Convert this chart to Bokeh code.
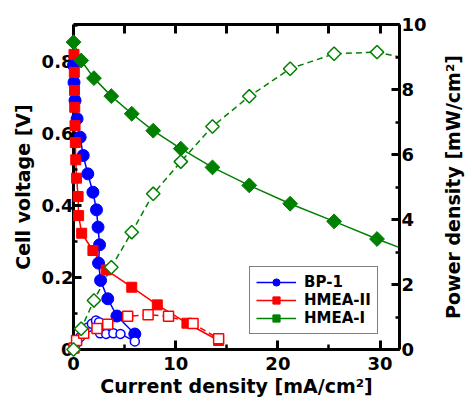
import numpy as np
from bokeh.plotting import figure
from bokeh.models import (Range1d, LinearAxis, SingleIntervalTicker, FixedTicker, Legend,
                          LegendItem)
from bokeh.core.properties import value
from bokeh.embed import file_html
from bokeh.resources import INLINE

# ---------------- data ----------------
# BP-1
bp1_j = [0.0, 0.05, 0.15, 0.35, 0.65, 0.95, 1.4, 1.9, 2.25, 2.4, 2.55, 2.45, 2.65, 3.35, 4.25, 6.0]
bp1_v = [0.79, 0.742, 0.692, 0.641, 0.59, 0.539, 0.488, 0.437, 0.388, 0.34, 0.291, 0.24,
         0.192, 0.141, 0.093, 0.043]
bp1_pj = [0.0, 0.05, 0.15, 0.35, 0.65, 0.95, 1.4, 1.8, 2.2, 2.5, 2.5, 2.6, 3.2, 3.9, 4.6, 6.0]
bp1_p = [0.0, 0.04, 0.10, 0.22, 0.38, 0.51, 0.68, 0.79, 0.89, 0.84, 0.60, 0.50, 0.48, 0.50,
         0.48, 0.25]

# HMEA-II
h2_j = [0.05, 0.08, 0.1, 0.12, 0.15, 0.18, 0.22, 0.3, 0.45, 0.5, 0.8, 1.9, 3.2, 5.7, 8.2, 11.1, 14.2]
h2_v = [0.82, 0.77, 0.72, 0.673, 0.622, 0.575, 0.527, 0.476, 0.425, 0.372, 0.323, 0.275,
        0.221, 0.173, 0.124, 0.073, 0.025]
h2_pj = [0.05, 0.3, 1.0, 2.3, 3.35, 5.3, 7.3, 9.3, 11.7, 14.2]
h2_p = [0.05, 0.28, 0.50, 0.65, 0.78, 1.02, 1.07, 1.02, 0.80, 0.33]

# HMEA-I (last point lies just beyond the visible x range)
h1_j = [0.0, 0.75, 2.0, 3.7, 5.7, 7.8, 10.5, 13.6, 17.2, 21.2, 25.5, 29.7, 33.5]
h1_v = [0.854, 0.803, 0.754, 0.704, 0.655, 0.608, 0.558, 0.506, 0.456, 0.405, 0.356, 0.307, 0.266]
h1_p = [0.0, 0.64, 1.51, 2.53, 3.61, 4.79, 5.78, 6.86, 7.79, 8.64, 9.10, 9.15, 8.90]

top_ticks = [5, 10, 15, 20, 25, 30]

x_label = "Current density [mA/cm²]"
y_label = "Cell voltage [V]"
y2_label = "Power density [mW/cm²]"

# ---------------- figure ----------------
FONT = "DejaVu Sans"
X_MAX, V_MAX, P_MAX = 31.9, 0.903, 10.0
p = figure(width=472, height=401, output_backend="svg", toolbar_location=None,
           x_range=Range1d(0, X_MAX), y_range=Range1d(0, V_MAX),
           x_axis_location=None, y_axis_location=None,
           min_border_left=73, min_border_right=73, min_border_top=24, min_border_bottom=52)
p.extra_y_ranges = {"power": Range1d(0, P_MAX)}
p.xgrid.visible = False
p.ygrid.visible = False
p.outline_line_color = None
p.background_fill_color = "white"
p.border_fill_color = "white"


def style(ax, major_in=8, minor_in=4):
    ax.axis_line_width = 3
    ax.axis_line_color = "black"
    ax.major_tick_in = major_in
    ax.major_tick_out = 0
    ax.minor_tick_in = minor_in
    ax.minor_tick_out = 0
    ax.major_tick_line_width = 3
    ax.minor_tick_line_width = 2.5
    ax.major_label_text_font = FONT
    ax.major_label_text_font_style = "bold"
    ax.major_label_text_font_size = "18px"
    ax.major_label_text_color = "black"
    ax.axis_label_text_font = FONT
    ax.axis_label_text_font_style = "bold"
    ax.axis_label_text_font_size = "19px"
    ax.axis_label_text_color = "black"


xb = LinearAxis(ticker=SingleIntervalTicker(interval=10, num_minor_ticks=2), axis_label=x_label)
style(xb, 9, 5)
xb.major_label_standoff = 7
xb.axis_label_standoff = 2
p.add_layout(xb, "below")

xt = LinearAxis(ticker=FixedTicker(ticks=[], minor_ticks=top_ticks))
style(xt, 9, 9)
xt.minor_tick_line_width = 3
p.add_layout(xt, "above")

yl = LinearAxis(ticker=SingleIntervalTicker(interval=0.2, num_minor_ticks=2), axis_label=y_label)
style(yl, 8, 4)
yl.major_label_overrides = {0: "0"}
yl.major_label_standoff = 0
yl.axis_label_standoff = 5
p.add_layout(yl, "left")

yr = LinearAxis(y_range_name="power", ticker=SingleIntervalTicker(interval=2, num_minor_ticks=2))
style(yr, 8, 4)
yr.major_label_standoff = 2
p.add_layout(yr, "right")

# right-axis title, reading bottom to top, placed 53 px right of the frame's right edge
p.text(x=[X_MAX], y=[V_MAX / 2], text=[y2_label], angle=np.pi / 2, x_offset=53,
       text_align="center", text_baseline="middle", text_font=value(FONT),
       text_font_style="bold", text_font_size="19px", text_color="black", level="overlay")

BLUE, RED, GREEN = "#0000ff", "#ff0000", "#008000"
LW = 1.5

# lines (clipped to frame)
l_bp1 = p.line(bp1_j, bp1_v, color=BLUE, line_width=LW)
p.line(bp1_pj, bp1_p, color=BLUE, line_width=LW, y_range_name="power")
l_h2 = p.line(h2_j, h2_v, color=RED, line_width=LW)
p.line(h2_pj, h2_p, color=RED, line_width=LW, line_dash="6 4", y_range_name="power")
l_h1 = p.line(h1_j, h1_v, color=GREEN, line_width=LW)
p.line(h1_j, h1_p, color=GREEN, line_width=LW, line_dash="6 4", y_range_name="power")

# markers (drawn unclipped, above axes)
n1 = len(h1_j) - 1
m_bp1 = p.scatter(bp1_j, bp1_v, marker="circle", size=12, fill_color=BLUE, line_color=BLUE,
                  level="overlay")
p.scatter(bp1_pj, bp1_p, marker="circle", size=9, fill_color="white", line_color=BLUE,
          line_width=1.5, y_range_name="power", level="overlay")
m_h2 = p.scatter(h2_j, h2_v, marker="square", size=10, fill_color=RED, line_color=RED,
                 level="overlay")
p.scatter(h2_pj, h2_p, marker="square", size=10, fill_color="white", line_color=RED,
          line_width=1.5, y_range_name="power", level="overlay")
m_h1 = p.scatter(h1_j[:n1], h1_v[:n1], marker="square", angle=np.pi / 4, size=10.5,
                 fill_color=GREEN, line_color=GREEN, level="overlay")
p.scatter(h1_j[:n1], h1_p[:n1], marker="square", angle=np.pi / 4, size=9.5, fill_color="white",
          line_color=GREEN, line_width=1.5, y_range_name="power", level="overlay")

legend = Legend(items=[LegendItem(label="BP-1", renderers=[l_bp1, m_bp1]),
                       LegendItem(label="HMEA-II", renderers=[l_h2, m_h2]),
                       LegendItem(label="HMEA-I", renderers=[l_h1, m_h1])],
                location=(176, 15))
legend.label_text_font = FONT
legend.label_text_font_style = "bold"
legend.label_text_font_size = "15px"
legend.label_text_color = "black"
legend.glyph_width = 40
legend.glyph_height = 18
legend.label_height = 18
legend.label_standoff = 8
legend.spacing = 0
legend.padding = 6
legend.margin = 0
legend.border_line_color = "black"
legend.border_line_width = 1
legend.background_fill_alpha = 1
p.add_layout(legend, "center")

open("out.html", "w").write(file_html(p, INLINE))
